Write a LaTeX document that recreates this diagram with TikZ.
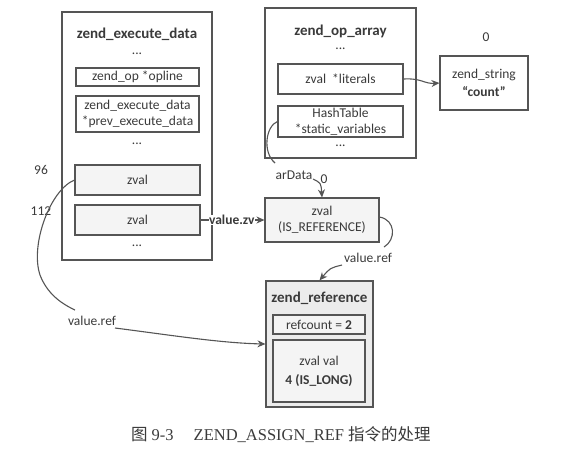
\documentclass[tikz,border=0pt]{standalone}
\usepackage{fontspec}
\setmainfont{Carlito}
\newfontfamily\capfont{Liberation Serif}
\newfontfamily\cjk{Noto Sans CJK SC}
\usetikzlibrary{arrows.meta}
\definecolor{ln}{HTML}{555555}
\definecolor{tx}{HTML}{3A3A3A}
\definecolor{fa}{HTML}{F4F4F4}
\definecolor{fb}{HTML}{ECECEC}
\begin{document}
\begin{tikzpicture}[x=1pt,y=-1pt,
  font=\fontsize{13.5}{16}\selectfont, text=tx,
  outer/.style={draw=ln, line width=1.1pt, inner sep=0pt},
  inbox/.style={draw=ln, line width=1.1pt, inner sep=0pt, align=center},
  lbl/.style={inner sep=1pt},
  ttl/.style={inner sep=1pt, font=\fontsize{15}{17}\selectfont\bfseries},
  conn/.style={draw=ln, line width=1.1pt},
  arr/.style={conn, -{Stealth[length=8pt,width=7pt]}}]
\useasboundingbox (0,0) rectangle (569,451);

% zend_execute_data
\node[outer, minimum width=150pt, minimum height=248pt] (ex) at (137,136) {};
\node[ttl] (ext) at (137,34) {zend\_execute\_data};
\node[lbl] (exd1) at (137,54) {...};
\node[inbox, minimum width=123pt, minimum height=18pt] (opl) at (137.5,77) {zend\_op *opline};
\node[inbox, minimum width=123pt, minimum height=36pt] (prev) at (137.5,114) {zend\_execute\_data\\{}*prev\_execute\_data};
\node[lbl] (exd2) at (137,144) {...};
\node[inbox, fill=fa, minimum width=125pt, minimum height=30pt] (zv1) at (137.5,180) {zval};
\node[inbox, fill=fa, minimum width=125pt, minimum height=30pt] (zv2) at (137.5,220) {zval};
\node[lbl] (exd3) at (137,246) {...};
\node[lbl] (n96) at (41,170) {96};
\node[lbl] (n112) at (41,211) {112};

% zend_op_array
\node[outer, minimum width=151pt, minimum height=150pt] (oa) at (340.5,83) {};
\node[ttl] (oat) at (340.5,31) {zend\_op\_array};
\node[lbl] (oad1) at (340.5,49) {...};
\node[inbox, minimum width=125pt, minimum height=30pt] (lit) at (340.5,79) {zval\ \ *literals};
\node[inbox, minimum width=125pt, minimum height=31pt] (ht) at (340.5,121.5) {HashTable\\{}*static\_variables};
\node[lbl] (oad2) at (340.5,146) {...};

% zend_string
\node[inbox, minimum width=88pt, minimum height=54pt] (zs) at (484,83) {zend\_string\\[2pt]\textbf{“count”}};
\node[lbl] (z0) at (486,37) {0};

% zval IS_REFERENCE
\node[inbox, fill=fa, minimum width=114pt, minimum height=44pt] (zr) at (322,220) {zval\\(IS\_REFERENCE)};
\node[lbl] (ard) at (294,175) {arData};
\node[lbl] (ar0) at (324,179) {0};
\node[lbl] (vref1) at (368,258) {value.ref};

% zend_reference
\node[outer, fill=fb, minimum width=107pt, minimum height=126pt] (zref) at (319.5,344) {};
\node[ttl] (zreft) at (319.5,298) {zend\_reference};
\node[inbox, fill=fa, minimum width=92pt, minimum height=19pt] (rc) at (319,324.5) {refcount = \textbf{2}};
\node[inbox, fill=fa, minimum width=92pt, minimum height=62pt] (val) at (319,371) {zval val\\[3pt]\textbf{4 (IS\_LONG)}};
\node[lbl] (vref2) at (92,321) {value.ref};

% connectors
\draw[arr] (lit.east) .. controls (422,78) and (424,84) .. (zs.west);
\coordinate (hte) at (275,163);
\draw[conn] (ht.west) .. controls (266,126) and (262,152) .. (hte);
\coordinate (ars) at (313,179);
\draw[arr] (ars) .. controls (321,183) .. (zr.north);
\draw[arr] (zv2.east) -- node[fill=white, inner sep=0.5pt, pos=0.49] (vz) {\textbf{value.zv}} (zr.west);
\coordinate (zre) at (384,247);
\draw[conn] (zr.east) ++(0,-3) .. controls (396,220) and (396,240) .. (zre);
\coordinate (vrs) at (342,265);
\draw[arr] (vrs) .. controls (330,268) .. (zref.north);
\coordinate (bce) at (75,310);
\draw[conn] (zv1.west) .. controls (50,190) and (30,245) .. (40,275) .. controls (47,293) and (60,303) .. (bce);
\coordinate (bas) at (115,328);
\draw[arr] (bas) .. controls (170,335) and (220,343) .. (zref.west);

% caption
\node[anchor=west, inner sep=0pt, text=tx] (cap) at (131,435) {\fontsize{16.5}{18}\selectfont\capfont{\cjk 图}\hspace{4pt}9-3\hspace{20pt}ZEND\_ASSIGN\_REF {\cjk 指令的处理}};
\end{tikzpicture}
\end{document}
